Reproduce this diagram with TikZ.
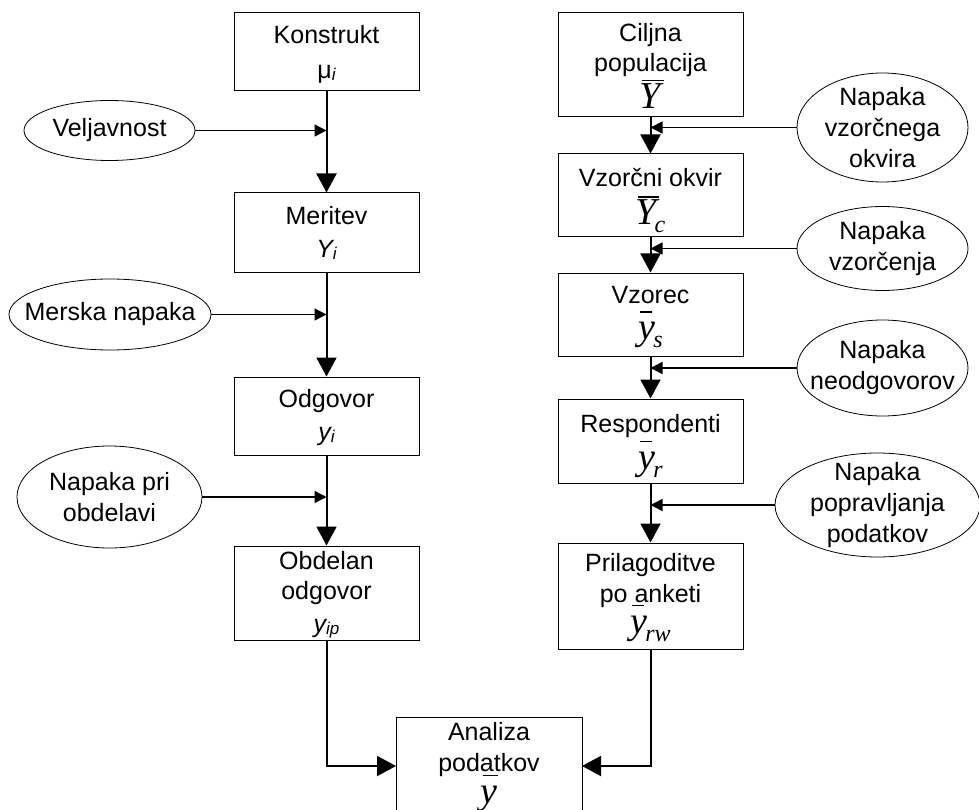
\documentclass[tikz,border=0pt]{standalone}
\usepackage{fontspec}
\setmainfont{Liberation Sans}
\newfontfamily\tms{Liberation Serif}
\usetikzlibrary{arrows.meta,shapes.geometric}
% barred italic serif letter: optional arg = bar width fraction
\newcommand{\ovl}[2][1]{{\fontsize{38}{38}\selectfont\setbox0\hbox{\tms\itshape #2}%
  \rlap{\kern0.12\wd0\raisebox{0.72em}{\rule{#1\wd0}{1.3pt}}}\box0}}
\newcommand{\sbs}[1]{\kern-2pt\raisebox{-8pt}{\fontsize{24}{24}\selectfont\tms\itshape #1}}
\newcommand{\asb}[1]{\raisebox{-2pt}{\fontsize{17}{17}\selectfont\itshape #1}}
\newcommand{\lblfont}{\fontsize{25}{31}\selectfont\lineskiplimit=-100pt\relax}
\begin{document}
\begin{tikzpicture}[x=1pt,y=-1pt,
  box/.style={draw,line width=1pt,minimum width=185pt,inner sep=0pt},
  err/.style={draw,ellipse,line width=0.8pt,inner sep=0pt},
  lbl/.style={align=center,inner sep=0pt,font=\lblfont},
  intop/.style={lbl,anchor=north,yshift=-#1},
  flow/.style={line width=2pt,-{Triangle[length=19pt,width=20pt]}},
  feed/.style={line width=1.5pt,-{Triangle[length=12pt,width=12pt]}}]
\clip (0,0) rectangle (979,810);
% left column
\node[box,minimum height=78pt,label={[intop=13pt]north:Konstrukt\\[4pt] μ\asb{i}}] (K) at (326.5,52) {};
\node[box,minimum height=79pt,label={[intop=14pt]north:Meritev\\[2pt] {\itshape Y}\asb{i}}] (M) at (326.5,232.5) {};
\node[box,minimum height=78pt,label={[intop=13pt]north:Odgovor\\[2pt] {\itshape y}\asb{i}}] (O) at (326.5,416) {};
\node[box,minimum height=94pt,label={[intop=6pt]north:Obdelan\\[-1pt] odgovor\\[2pt] {\itshape y}\asb{ip}}] (Ob) at (326.5,593) {};
% right column
\node[box,minimum height=104pt,label={[intop=11pt]north:Ciljna\\[-1pt] populacija\\[6pt] \ovl{Y}}] (C) at (650.5,65) {};
\node[box,minimum height=83pt,label={[intop=15pt]north:Vzorčni okvir\\[7pt] \ovl{Y}\sbs{c}}] (VO) at (650.5,195.5) {};
\node[box,minimum height=83pt,label={[intop=14pt]north:Vzorec\\[5pt] \ovl[0.7]{y}\sbs{s}}] (Vz) at (650.5,314.5) {};
\node[box,minimum height=84pt,label={[intop=16pt]north:Respondenti\\[6pt] \ovl[0.7]{y}\sbs{r}}] (R) at (650.5,441) {};
\node[box,minimum height=106pt,label={[intop=11pt]north:Prilagoditve\\[0pt] po anketi\\[0pt] \ovl[0.7]{y}\sbs{rw}}] (P) at (650.5,596) {};
% analysis
\node[box,minimum width=186pt,minimum height=110pt,label={[intop=6pt]north:Analiza\\[0pt] podatkov\\[1pt] \ovl[0.9]{y}}] (A) at (489,772) {};
% error ellipses left
\node[err,minimum width=171pt,minimum height=60pt,label={[lbl]center:Veljavnost}] (l1) at (109.5,130.5) {};
\node[err,minimum width=202pt,minimum height=71pt,label={[lbl]center:Merska napaka}] (l2) at (110,314.5) {};
\node[err,minimum width=185pt,minimum height=102pt,label={[lbl]center:Napaka pri\\ obdelavi}] (l3) at (109.5,497) {};
% error ellipses right
\node[err,minimum width=171pt,minimum height=109pt,label={[lbl]center:Napaka\\ vzorčnega\\ okvira}] (r1) at (882.5,127.5) {};
\node[err,minimum width=171pt,minimum height=84pt,label={[lbl]center:Napaka\\ vzorčenja}] (r2) at (882.5,248.5) {};
\node[err,minimum width=171pt,minimum height=96pt,label={[lbl]center:Napaka\\ neodgovorov}] (r3) at (882.5,368) {};
\node[err,minimum width=205pt,minimum height=104pt,label={[lbl]center:Napaka\\ popravljanja\\ podatkov}] (r4) at (877.5,505) {};
% junction points on the main flow lines
\coordinate (jl1) at (326.5,130.5);
\coordinate (jl2) at (326.5,314.5);
\coordinate (jl3) at (326.5,497);
\coordinate (jr1) at (650.5,127.5);
\coordinate (jr2) at (650.5,248.5);
\coordinate (jr3) at (650.5,368);
\coordinate (jr4) at (650.5,505);
\coordinate (aL) at (396,766);
\coordinate (aR) at (582,766);
% main flows
\draw[flow] (K.south) -- (M.north);
\draw[flow] (M.south) -- (O.north);
\draw[flow] (O.south) -- (Ob.north);
\draw[flow] (C.south) -- (VO.north);
\draw[flow] (VO.south) -- (Vz.north);
\draw[flow] (Vz.south) -- (R.north);
\draw[flow] (R.south) -- (P.north);
\draw[flow] (Ob.south) |- (aL);
\draw[flow] (P.south) |- (aR);
% error feeds
\draw[feed] (l1.east) -- (jl1);
\draw[feed] (l2.east) -- (jl2);
\draw[feed] (l3.east) -- (jl3);
\draw[feed] (r1.west) -- (jr1);
\draw[feed] (r2.west) -- (jr2);
\draw[feed] (r3.west) -- (jr3);
\draw[feed] (r4.west) -- (jr4);
\end{tikzpicture}
\end{document}
